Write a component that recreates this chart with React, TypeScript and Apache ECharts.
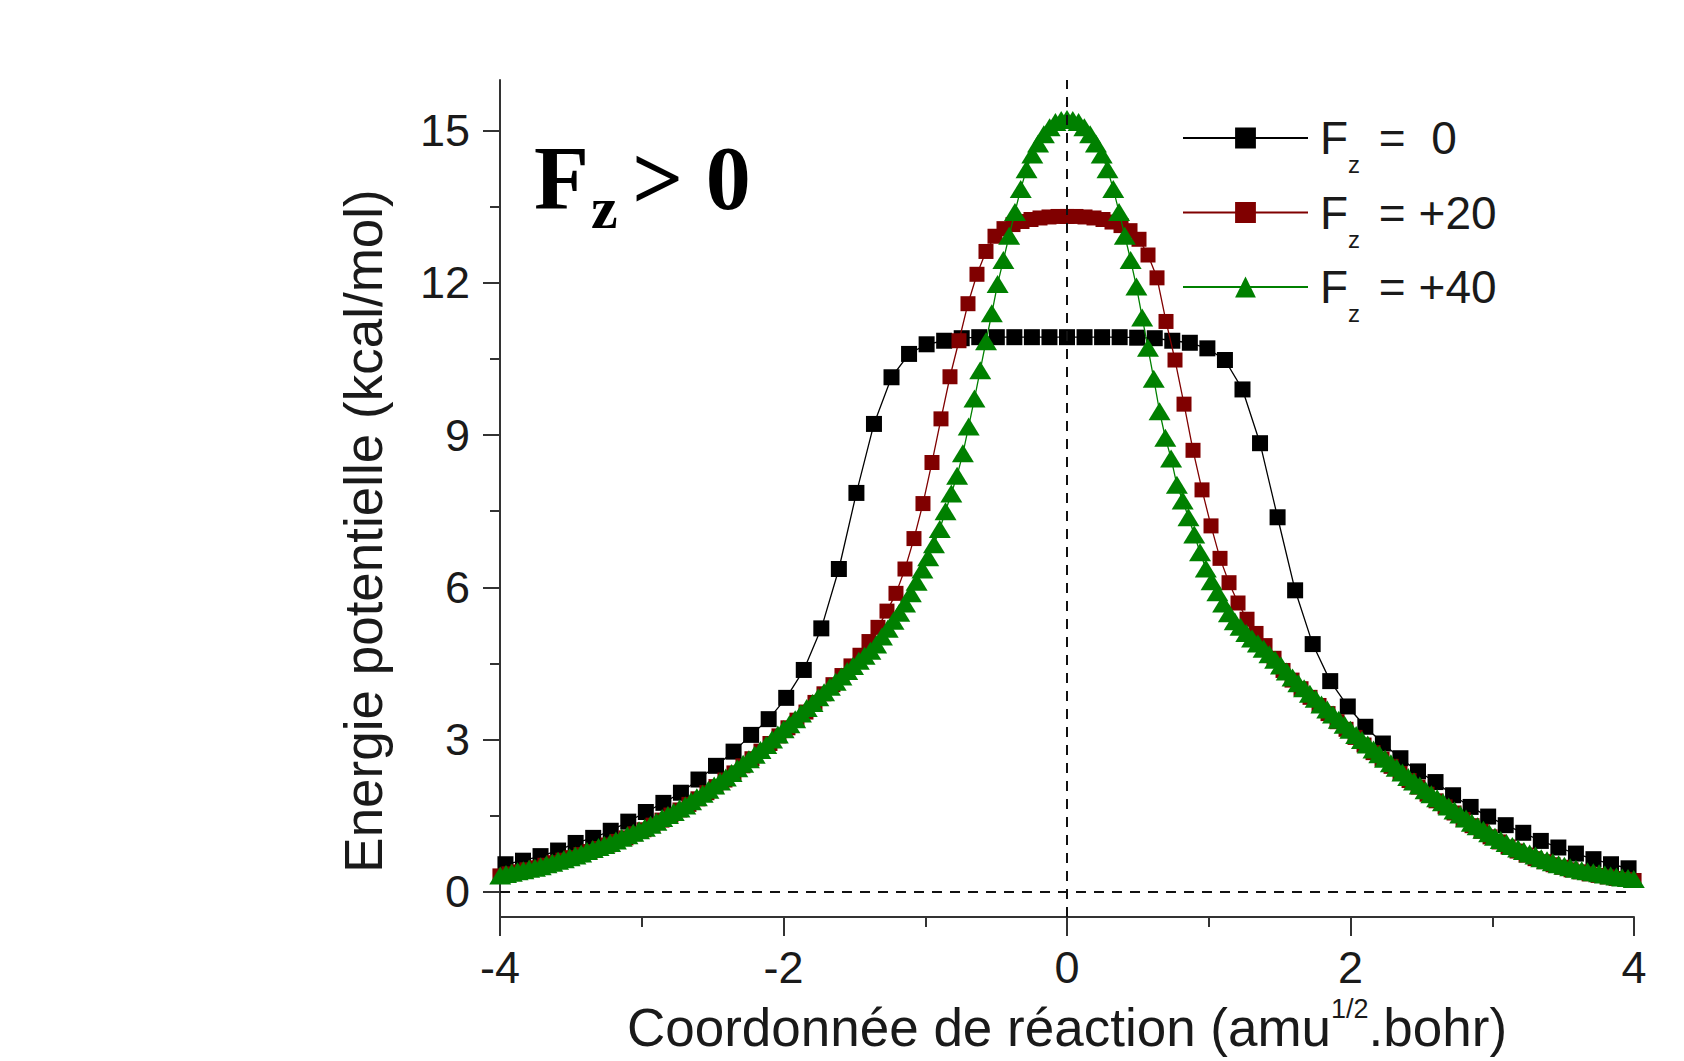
import React, { useEffect, useRef } from "react";
import * as echarts from "echarts";

// ---------- data ----------
const SERIES_NAMES = ["Fz = 0", "Fz = +20", "Fz = +40"];
const LEGEND_VALUES = [" =  0", " = +20", " = +40"];
const SERIES_COLORS = ["#000000", "#800000", "#008000"];

const Y_TICK_LABELS = [0, 3, 6, 9, 12, 15];
const Y_MINOR_TICKS = [1.5, 4.5, 7.5, 10.5, 13.5];

// reaction-coordinate step of each IRC (points are centred on s = 0)
const STEP_F0 = 0.1238;
const STEP_F20 = 0.0635;
const STEP_F40 = 0.0408;

const ENERGY_F0 = [
  0.54, 0.61, 0.7, 0.81, 0.96, 1.06, 1.2, 1.38, 1.57, 1.75, 1.95, 2.21, 2.48, 2.76, 3.09, 3.4,
  3.82, 4.37, 5.19, 6.36, 7.86, 9.22, 10.14, 10.6, 10.79, 10.86, 10.91, 10.93, 10.93, 10.93,
  10.93, 10.93, 10.93, 10.93, 10.93, 10.93, 10.92, 10.91, 10.86, 10.82, 10.71, 10.48, 9.9,
  8.84, 7.38, 5.94, 4.88, 4.15, 3.65, 3.25, 2.92, 2.63, 2.37, 2.16, 1.9, 1.67, 1.48, 1.31,
  1.16, 1.0, 0.87, 0.75, 0.64, 0.54, 0.46,
];

const ENERGY_F20 = [
  0.31, 0.35, 0.39, 0.43, 0.47, 0.52, 0.57, 0.62, 0.67, 0.73, 0.79, 0.85, 0.92, 0.99, 1.06,
  1.14, 1.22, 1.31, 1.41, 1.51, 1.61, 1.72, 1.83, 1.95, 2.07, 2.2, 2.34, 2.48, 2.62, 2.77,
  2.92, 3.07, 3.23, 3.38, 3.54, 3.73, 3.9, 4.08, 4.26, 4.45, 4.66,
  4.93, 5.21, 5.53, 5.88, 6.36, 6.96, 7.65, 8.46, 9.32, 10.15, 10.86, 11.59, 12.17, 12.62,
  12.92, 13.07, 13.15, 13.21, 13.25, 13.28, 13.3, 13.31,
  13.31,
  13.31, 13.3, 13.28, 13.25, 13.2, 13.13, 13.03, 12.86, 12.55, 12.1, 11.24, 10.48, 9.61, 8.7,
  7.92, 7.21, 6.57, 6.09, 5.69, 5.37, 5.09, 4.85, 4.6, 4.36, 4.17, 4.0, 3.83, 3.67, 3.51,
  3.35, 3.2, 3.04, 2.89, 2.74, 2.61, 2.47, 2.33, 2.19, 2.06, 1.92, 1.79, 1.67, 1.55, 1.42,
  1.3, 1.19, 1.08, 0.98, 0.88, 0.8, 0.72, 0.65, 0.59, 0.53, 0.48, 0.43, 0.39, 0.35, 0.32,
  0.29, 0.26, 0.24, 0.22,
];

const ENERGY_F40 = [
  0.32, 0.35, 0.37, 0.4, 0.42, 0.45, 0.47, 0.5, 0.54, 0.57, 0.61, 0.64, 0.68, 0.71, 0.75,
  0.8, 0.84, 0.88, 0.92, 0.96, 1.01, 1.06, 1.11, 1.16, 1.21, 1.26, 1.32, 1.38, 1.45, 1.51,
  1.57, 1.64, 1.7, 1.78, 1.86, 1.93, 2.01, 2.09, 2.17, 2.25, 2.34, 2.43, 2.52, 2.61, 2.7,
  2.79, 2.89, 3.0, 3.1, 3.2, 3.3, 3.4, 3.51, 3.62, 3.72, 3.83, 3.93, 4.04, 4.14, 4.24, 4.35,
  4.45, 4.55, 4.65, 4.75,
  4.87, 5.03, 5.18, 5.34, 5.5, 5.68, 5.88, 6.11, 6.35, 6.59, 6.85, 7.15, 7.5, 7.85, 8.2,
  8.64, 9.17, 9.72, 10.28, 10.85, 11.4, 11.98, 12.45, 12.93, 13.4, 13.85, 14.24, 14.53,
  14.75, 14.93, 15.07, 15.17, 15.21, 15.23,
  15.21, 15.17, 15.07, 14.93, 14.75, 14.53, 14.24, 13.85, 13.4, 12.93, 12.45, 11.93, 11.32,
  10.72, 10.11, 9.47, 8.95, 8.54, 8.02, 7.71, 7.38, 7.04, 6.69, 6.37, 6.12, 5.9, 5.68, 5.49,
  5.33, 5.22, 5.1, 4.99, 4.89, 4.79, 4.68, 4.57, 4.46, 4.34, 4.22, 4.11, 4.01, 3.9, 3.8,
  3.69, 3.59, 3.49, 3.39, 3.29, 3.19, 3.09, 2.99, 2.9, 2.8, 2.71, 2.62, 2.53, 2.44, 2.35,
  2.26, 2.17, 2.09, 2.0, 1.92, 1.84, 1.76, 1.68, 1.6, 1.52, 1.44, 1.36, 1.29, 1.22, 1.15,
  1.08, 1.02, 0.96, 0.9, 0.85, 0.8, 0.75, 0.71, 0.66, 0.62, 0.58, 0.54, 0.51, 0.48, 0.45,
  0.42, 0.4, 0.38, 0.36, 0.34, 0.32, 0.3, 0.28, 0.27, 0.25,
];

// ---------- styling ----------
const FONT = "'Liberation Sans', Arial, sans-serif";
const SERIF = "'Liberation Serif', 'Times New Roman', serif";
const AXIS_COLOR = "#333333";
const TEXT_COLOR = "#1a1a1a";

function toPairs(values: number[], step: number): number[][] {
  const c = (values.length - 1) / 2;
  return values.map((v, i) => [+((i - c) * step).toFixed(4), v]);
}

function buildOption(): any {
  const axisLineStyle = { color: AXIS_COLOR, width: 2 };
  const legendText = { fontSize: 46, lineHeight: 77, color: TEXT_COLOR, fontFamily: FONT };
  return {
    animation: false,
    backgroundColor: "#ffffff",
    textStyle: { fontFamily: FONT },
    grid: {
      left: 500,
      top: 80,
      width: 1134,
      height: 837,
      containLabel: false,
      outerBoundsMode: "none",
    },
    xAxis: {
      type: "value",
      min: -4,
      max: 4,
      interval: 2,
      name: "{m|Coordonnée de réaction (amu}{s|1/2}{m|.bohr)}",
      nameLocation: "middle",
      nameGap: 78,
      nameTextStyle: {
        color: TEXT_COLOR,
        rich: {
          m: { fontSize: 53, lineHeight: 64, fontFamily: FONT, color: TEXT_COLOR },
          s: { fontSize: 27, lineHeight: 0, verticalAlign: "top", fontFamily: FONT, color: TEXT_COLOR },
        },
      },
      axisLine: { show: true, onZero: false, lineStyle: axisLineStyle },
      axisTick: { show: true, inside: false, length: 19, lineStyle: axisLineStyle },
      minorTick: { show: true, splitNumber: 2, length: 10, lineStyle: axisLineStyle },
      axisLabel: { fontSize: 45, color: TEXT_COLOR, margin: 28, fontFamily: FONT },
      splitLine: { show: false },
      minorSplitLine: { show: false },
    },
    yAxis: [
      {
        type: "value",
        min: -0.5,
        max: 16,
        position: "left",
        name: "Energie potentielle (kcal/mol)",
        nameLocation: "middle",
        nameGap: 110,
        nameRotate: 90,
        nameTextStyle: { fontSize: 53, color: TEXT_COLOR, fontFamily: FONT, padding: [0, 65, 0, 0] },
        axisLine: { show: true, onZero: false, lineStyle: axisLineStyle },
        axisTick: { show: true, inside: false, length: 17, customValues: Y_TICK_LABELS, lineStyle: axisLineStyle },
        axisLabel: {
          fontSize: 45,
          color: TEXT_COLOR,
          margin: 30,
          fontFamily: FONT,
          customValues: Y_TICK_LABELS,
          padding: [0, 0, 10, 0],
        },
        splitLine: { show: false },
      },
      {
        type: "value",
        min: -0.5,
        max: 16,
        position: "left",
        axisLine: { show: false, onZero: false },
        axisTick: { show: true, inside: false, length: 10, customValues: Y_MINOR_TICKS, lineStyle: axisLineStyle },
        axisLabel: { show: false },
        splitLine: { show: false },
      },
    ],
    legend: {
      orient: "vertical",
      left: 1182,
      top: 115,
      padding: 0,
      itemGap: 13,
      itemWidth: 125,
      itemHeight: 26,
      selectedMode: false,
      data: SERIES_NAMES,
      formatter: (name: string) => `{f|F}{s|z}{m|${LEGEND_VALUES[SERIES_NAMES.indexOf(name)]}}`,
      textStyle: {
        rich: {
          f: { ...legendText, padding: [0, 0, 0, 7] },
          m: { ...legendText },
          s: { fontSize: 24, lineHeight: 22, verticalAlign: "bottom", color: TEXT_COLOR, fontFamily: FONT, padding: [0, 6, 0, 0] },
        },
      },
      lineStyle: { width: 2 },
    },
    graphic: [
      {
        type: "text",
        x: 534,
        y: 178.6,
        style: { text: "F", fontSize: 90, fontWeight: "bold", fontFamily: SERIF, fill: "#000", align: "left", verticalAlign: "middle", textAlign: "left", textVerticalAlign: "middle" },
      },
      {
        type: "text",
        x: 591,
        y: 207.7,
        style: { text: "z", fontSize: 60, fontWeight: "bold", fontFamily: SERIF, fill: "#000", align: "left", verticalAlign: "middle", textAlign: "left", textVerticalAlign: "middle" },
      },
      {
        type: "text",
        x: 632,
        y: 178.6,
        style: { text: "> 0", fontSize: 90, fontWeight: "bold", fontFamily: SERIF, fill: "#000", align: "left", verticalAlign: "middle", textAlign: "left", textVerticalAlign: "middle" },
      },
    ],
    series: [
      {
        name: SERIES_NAMES[0],
        type: "line",
        data: toPairs(ENERGY_F0, STEP_F0),
        symbol: "rect",
        symbolSize: 16,
        showAllSymbol: true,
        itemStyle: { color: SERIES_COLORS[0] },
        lineStyle: { color: SERIES_COLORS[0], width: 1.3 },
        z: 2,
        markLine: {
          silent: true,
          symbol: ["none", "none"],
          label: { show: false },
          lineStyle: { color: "#111111", width: 2, type: [10, 8] },
          data: [{ xAxis: 0 }, { yAxis: 0 }],
          z: 10,
        },
      },
      {
        name: SERIES_NAMES[1],
        type: "line",
        data: toPairs(ENERGY_F20, STEP_F20),
        symbol: "rect",
        symbolSize: 15,
        showAllSymbol: true,
        itemStyle: { color: SERIES_COLORS[1] },
        lineStyle: { color: SERIES_COLORS[1], width: 1.3 },
        z: 3,
      },
      {
        name: SERIES_NAMES[2],
        type: "line",
        data: toPairs(ENERGY_F40, STEP_F40),
        symbol: "triangle",
        symbolSize: [22, 18],
        showAllSymbol: true,
        itemStyle: { color: SERIES_COLORS[2] },
        lineStyle: { color: SERIES_COLORS[2], width: 1.3 },
        z: 4,
      },
    ],
  };
}

export default function App() {
  const ref = useRef<HTMLDivElement>(null);
  useEffect(() => {
    if (!ref.current) return;
    const chart = echarts.init(ref.current, null, { renderer: "svg" });
    chart.setOption(buildOption());
    return () => chart.dispose();
  }, []);
  return (
    <div
      ref={ref}
      style={{ position: "fixed", left: 0, top: 0, width: 1684, height: 1061, background: "#ffffff" }}
    />
  );
}
